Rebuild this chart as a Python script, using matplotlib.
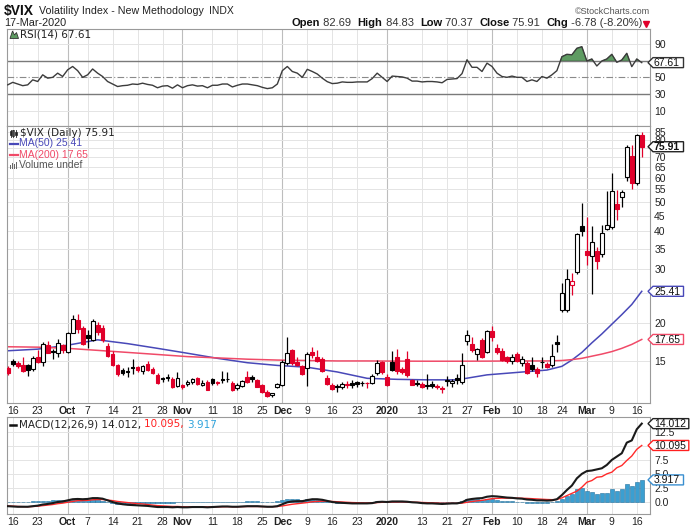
import numpy as np
import pandas as pd
import matplotlib
matplotlib.use("Agg")
import matplotlib.pyplot as plt
from matplotlib.patches import Polygon, Rectangle
from matplotlib.ticker import NullLocator

plt.rcParams['font.family'] = ['Liberation Sans', 'DejaVu Sans']

# trading days on the chart (13-Sep-2019 .. 17-Mar-2020)
holidays = ["2019-11-28", "2019-12-25", "2020-01-01", "2020-01-20", "2020-02-17"]
days = pd.bdate_range("2019-09-13", "2020-03-17")
days = days[~days.isin(pd.to_datetime(holidays))]

prev_close0 = 14.22
opens = [14.2, 14.95, 14.8, 14.6, 14.5, 14.1, 15.4, 14.9, 16.9, 16.2,
         15.9, 16.9, 16.0, 18.6, 20.4, 19.3, 18.2, 17.6, 19.7, 19.3,
         16.8, 15.8, 14.6, 14.0, 13.9, 14.3, 14.3, 13.9, 14.7, 14.1,
         13.5, 13.2, 13.25, 13.1, 12.4, 12.5, 12.6, 12.8, 13.2, 12.5,
         12.8, 13.1, 12.75, 13.05, 13.1, 12.7, 12.2, 12.4, 13.3, 13.3,
         13.0, 12.5, 11.9, 11.6, 12.3, 12.5, 14.8, 16.3, 14.9, 14.4,
         14.2, 16.0, 15.5, 15.2, 13.2, 12.5, 12.4, 12.3, 12.6, 12.7,
         12.8, 12.65, 12.7, 12.7, 13.7, 14.9, 13.3, 14.9, 15.4, 14.1,
         15.2, 13.0, 12.7, 12.6, 12.5, 12.6, 12.4, 12.2, 12.95, 12.7,
         13.2, 12.8, 17.4, 17.0, 15.75, 17.6, 16.1, 18.8, 16.6, 16.2,
         15.5, 15.0, 15.8, 14.8, 14.8, 14.5, 14.1, 14.9, 14.7, 14.5,
         17.3, 22.1, 22.1, 26.6, 29.4, 41.5, 34.6, 33.3, 34.4, 33.6,
         40.8, 41.2, 49.2, 51.9, 60.5, 70.5, 57.6, 82.69]
highs = [14.45, 15.2, 15.0, 15.4, 14.7, 15.6, 16.3, 17.3, 17.5, 16.4,
         17.7, 17.0, 18.7, 21.2, 21.4, 19.5, 18.9, 20.6, 20.2, 19.7,
         17.2, 16.2, 14.7, 14.2, 14.3, 15.2, 14.4, 14.6, 15.0, 14.3,
         13.7, 13.3, 13.6, 13.3, 13.8, 12.6, 13.0, 13.2, 13.3, 13.0,
         13.0, 13.2, 12.9, 13.9, 13.8, 12.9, 12.7, 13.0, 13.9, 13.5,
         13.1, 12.6, 12.0, 11.8, 12.7, 15.1, 17.99, 16.4, 15.4, 14.6,
         16.1, 16.7, 16.3, 15.5, 13.5, 12.7, 12.6, 12.8, 12.9, 13.0,
         12.9, 12.9, 12.8, 13.6, 15.1, 15.0, 13.6, 16.2, 16.4, 14.3,
         16.2, 13.1, 13.0, 12.8, 13.6, 12.9, 12.6, 12.4, 13.4, 13.1,
         13.6, 15.9, 19.0, 18.0, 16.5, 17.9, 19.0, 19.5, 17.0, 16.5,
         15.6, 15.8, 16.1, 15.6, 15.0, 15.4, 14.3, 15.4, 14.9, 17.1,
         18.2, 27.0, 30.1, 29.2, 39.6, 49.5, 44.7, 41.6, 35.6, 42.0,
         54.4, 62.1, 54.8, 54.9, 76.8, 77.0, 83.6, 84.83]
lows = [13.5, 14.4, 14.2, 13.8, 13.4, 13.9, 14.8, 14.4, 15.9, 15.2,
        15.5, 15.9, 15.9, 18.5, 18.5, 16.9, 16.6, 17.5, 18.3, 17.3,
        15.5, 14.4, 13.4, 13.5, 13.3, 13.6, 13.8, 13.6, 13.9, 13.6,
        12.6, 12.8, 12.9, 12.2, 12.3, 12.1, 12.4, 12.6, 12.5, 12.4,
        12.0, 12.5, 12.5, 12.7, 12.8, 11.95, 12.0, 12.3, 12.7, 12.8,
        12.3, 11.8, 11.45, 11.4, 12.2, 12.4, 14.5, 14.6, 14.4, 13.5,
        12.4, 15.3, 14.9, 13.8, 12.5, 12.0, 11.9, 12.1, 12.2, 12.2,
        12.3, 12.4, 12.2, 12.6, 13.5, 13.6, 12.4, 13.9, 13.6, 13.6,
        13.3, 12.5, 12.4, 12.2, 12.1, 12.2, 12.1, 11.8, 12.4, 12.3,
        12.6, 12.6, 16.9, 16.0, 15.1, 15.3, 15.9, 17.5, 15.8, 15.0,
        14.8, 14.7, 14.9, 14.4, 13.6, 13.9, 13.3, 14.2, 14.2, 14.3,
        16.1, 21.7, 21.8, 24.8, 28.9, 38.5, 31.1, 24.9, 30.0, 33.0,
        40.3, 40.8, 43.5, 48.0, 58.5, 55.0, 57.0, 70.37]
closes = [13.74, 14.67, 14.44, 13.95, 14.05, 15.32, 14.91, 17.05, 15.96, 16.07,
          17.22, 16.24, 18.56, 20.56, 19.12, 17.04, 17.86, 20.28, 18.64, 17.57,
          15.58, 14.57, 13.54, 13.68, 13.79, 14.25, 14.00, 14.46, 14.01, 13.71,
          12.65, 13.11, 13.20, 12.33, 13.22, 12.30, 12.83, 13.10, 12.62, 12.73,
          12.07, 12.69, 12.68, 13.00, 13.05, 12.05, 12.46, 12.86, 12.78, 13.13,
          12.34, 11.87, 11.54, 11.75, 12.62, 14.91, 15.96, 14.80, 14.52, 13.62,
          15.86, 15.68, 14.99, 13.94, 12.63, 12.14, 12.29, 12.58, 12.50, 12.51,
          12.61, 12.67, 12.65, 13.43, 14.82, 13.78, 12.47, 14.02, 13.85, 13.79,
          13.45, 12.54, 12.56, 12.32, 12.39, 12.42, 12.32, 12.10, 12.85, 12.91,
          12.98, 14.56, 18.23, 16.28, 16.39, 15.49, 18.84, 17.97, 16.05, 15.15,
          14.96, 15.47, 15.04, 15.18, 13.74, 14.15, 13.68, 14.83, 14.38, 15.56,
          17.08, 25.03, 27.85, 27.56, 39.16, 40.11, 33.42, 36.82, 31.99, 39.62,
          41.94, 54.46, 47.30, 53.90, 75.47, 57.83, 82.69, 75.91]

ma_dates = ["2019-09-13", "2019-09-23", "2019-10-01", "2019-10-09", "2019-10-17",
            "2019-10-25", "2019-11-04", "2019-11-12", "2019-11-20", "2019-11-29",
            "2019-12-09", "2019-12-17", "2019-12-26", "2020-01-06", "2020-01-14",
            "2020-01-23", "2020-01-31", "2020-02-10", "2020-02-19", "2020-02-24",
            "2020-02-26", "2020-02-28", "2020-03-03", "2020-03-05", "2020-03-09",
            "2020-03-11", "2020-03-13", "2020-03-17"]
ma50 = [16.2, 16.4, 16.9, 17.6, 17.1, 16.5, 15.9, 15.3, 14.8, 14.5,
        14.3, 13.8, 13.15, 13.05, 13.0, 13.0, 13.5, 13.75, 14.0, 14.4,
        15.1, 16.0, 17.2, 18.4, 19.8, 21.3, 23.0, 25.41]
ma200 = [16.7, 16.65, 16.5, 16.25, 16.0, 15.75, 15.5, 15.35, 15.2, 15.1,
         15.05, 15.0, 15.0, 14.98, 14.97, 14.97, 14.98, 15.0, 15.0, 15.05,
         15.15, 15.3, 15.55, 15.8, 16.1, 16.5, 17.0, 17.65]

rsi = [41, 44, 42, 40, 41, 47, 45, 53, 49, 50,
       55, 51, 59, 63, 58, 50, 53, 60, 55, 51,
       45, 42, 39, 40, 40.5, 42, 41.5, 43, 41.5, 40.5,
       37.5, 39.5, 40, 37, 41, 37.5, 40, 41, 39.5, 40,
       37.5, 40.5, 40.5, 42, 42, 38.5, 40.5, 42, 42, 41,
       40, 38, 36.5, 37.5, 42, 58, 63, 57, 55, 50,
       59.6, 57, 54, 49, 44.8, 42.5, 43, 44.5, 44, 44,
       44.5, 44.5, 44.5, 48.5, 55, 50, 45, 51.5, 51, 50.5,
       49, 45.5, 45.5, 44.5, 45, 45, 44.5, 43.5, 47.5, 48,
       48.5, 54.5, 71, 62, 62, 57, 67, 63, 55, 51,
       50, 51.5, 50, 50, 45, 47, 45, 51, 49, 53,
       58, 74.7, 77.6, 77, 84.8, 86.7, 69.6, 72, 63.6, 69.6,
       72, 77.6, 68, 70.8, 78.8, 62.8, 72, 67.61]

macd = [-0.8, -0.85, -0.9, -0.9, -0.9, -0.8, -0.7, -0.5, -0.4, -0.25,
        -0.05, 0.05, 0.25, 0.45, 0.5, 0.45, 0.5, 0.65, 0.65, 0.55,
        0.25, -0.05, -0.3, -0.45, -0.55, -0.6, -0.65, -0.7, -0.75, -0.85,
        -0.95, -0.95, -0.95, -1.0, -0.95, -1.0, -1.0, -0.95, -0.95, -0.95,
        -1.0, -0.95, -0.9, -0.85, -0.85, -0.9, -0.9, -0.85, -0.8, -0.8,
        -0.8, -0.85, -0.9, -0.9, -0.8, -0.45, -0.1, 0.05, 0.1, 0.1,
        0.3, 0.45, 0.45, 0.35, 0.15, -0.05, -0.15, -0.2, -0.25, -0.3,
        -0.3, -0.3, -0.3, -0.25, -0.05, 0.0, -0.05, 0.05, 0.05, 0.05,
        0.0, -0.1, -0.15, -0.25, -0.3, -0.3, -0.35, -0.4, -0.35, -0.3,
        -0.3, -0.1, 0.35, 0.5, 0.6, 0.65, 0.9, 1.0, 0.95, 0.85,
        0.75, 0.7, 0.6, 0.55, 0.4, 0.35, 0.25, 0.25, 0.2, 0.25,
        0.45, 1.2, 2.1, 2.9, 4.2, 5.0, 5.5, 5.6, 5.8, 6.0,
        6.6, 7.5, 8.1, 8.7, 10.6, 11.0, 13.0, 14.012]
hist = [-0.05, -0.05, -0.05, -0.03, 0.0, 0.05, 0.1, 0.2, 0.2, 0.25,
        0.3, 0.3, 0.35, 0.4, 0.3, 0.25, 0.25, 0.3, 0.25, 0.15,
        -0.05, -0.25, -0.35, -0.4, -0.4, -0.35, -0.3, -0.3, -0.25, -0.25,
        -0.25, -0.2, -0.15, -0.15, -0.1, -0.1, -0.08, -0.05, -0.04, -0.03,
        -0.05, -0.02, 0.0, 0.03, 0.03, 0.0, 0.0, 0.02, 0.05, 0.05,
        0.05, 0.02, -0.02, -0.02, 0.05, 0.3, 0.5, 0.5, 0.45, 0.35,
        0.45, 0.45, 0.4, 0.25, 0.05, -0.1, -0.15, -0.15, -0.15, -0.15,
        -0.12, -0.1, -0.08, -0.05, 0.1, 0.1, 0.05, 0.1, 0.1, 0.08,
        0.05, -0.03, -0.05, -0.12, -0.15, -0.12, -0.12, -0.12, -0.08, -0.03,
        -0.02, 0.15, 0.45, 0.45, 0.45, 0.4, 0.5, 0.45, 0.35, 0.2,
        0.1, 0.05, -0.05, -0.08, -0.2, -0.2, -0.25, -0.2, -0.2, -0.12,
        0.05, 0.5, 1.0, 1.4, 2.3, 2.4, 2.0, 1.8, 1.4, 1.5,
        1.6, 2.2, 2.0, 2.2, 3.2, 2.8, 3.6, 3.917]

tick_dates = ["2019-09-16", "2019-09-23", "2019-10-01", "2019-10-07", "2019-10-14",
              "2019-10-21", "2019-10-28", "2019-11-01", "2019-11-11", "2019-11-18",
              "2019-11-25", "2019-12-02", "2019-12-09", "2019-12-16", "2019-12-23",
              "2020-01-02", "2020-01-13", "2020-01-21", "2020-01-27", "2020-02-03",
              "2020-02-10", "2020-02-18", "2020-02-24", "2020-03-02", "2020-03-09",
              "2020-03-16"]
tick_labels = ["16", "23", "Oct", "7", "14", "21", "28", "Nov", "11", "18", "25",
               "Dec", "9", "16", "23", "2020", "13", "21", "27", "Feb", "10", "18",
               "24", "Mar", "9", "16"]
month_labels = ["Oct", "Nov", "Dec", "2020", "Feb", "Mar"]

RED = '#e0002a'
BLUE = '#4848b8'
PINK = '#f04a68'
GRID = '#e4e4e4'
MGRID = '#bdbdbd'

x = np.arange(len(days))


def pos(d):
    return days.get_loc(pd.Timestamp(d))


W, H = 697, 531
fig = plt.figure(figsize=(W / 100, H / 100), dpi=100)


def panel(top, bottom):
    return fig.add_axes([7 / W, 1 - bottom / H, 643 / W, (bottom - top) / H])


ax_rsi = panel(29, 126)
ax = panel(126, 403)
ax_m = panel(417, 514)

tick_x = [pos(d) for d in tick_dates]
for a in (ax_rsi, ax, ax_m):
    a.set_xlim(-0.15, 128.65)
    for s in a.spines.values():
        s.set_color('#9a9a9a')
        s.set_linewidth(0.8)
    a.yaxis.tick_right()
    a.tick_params(axis='y', length=0, pad=3, labelsize=7.5, labelcolor='#222')
    a.tick_params(axis='x', length=0, pad=2.5, labelsize=7.5, labelcolor='#222')
    for tx, lab in zip(tick_x, tick_labels):
        mon = lab in month_labels
        a.axvline(tx, color=MGRID if mon else GRID, lw=0.8 if mon else 0.7, zorder=0)
    a.set_xticks(tick_x)
    if a is ax_rsi:
        a.set_xticklabels([])
    else:
        a.set_xticklabels(tick_labels)
        for t in a.get_xticklabels():
            if t.get_text() in month_labels:
                t.set_fontweight('bold')

# RSI panel
r = np.array(rsi)
ax_rsi.set_ylim(-8.3, 107.9)
for v in (10, 90):
    ax_rsi.axhline(v, color=GRID, lw=0.7, zorder=0)
ax_rsi.axhline(70, color='#7a7a7a', lw=1.0, zorder=1)
ax_rsi.axhline(30, color='#7a7a7a', lw=1.0, zorder=1)
ax_rsi.axhline(50, color='#8a8a8a', lw=0.8, ls=(0, (6, 2, 1, 2)), zorder=1)
ax_rsi.fill_between(x, r, 70, where=r >= 70, interpolate=True,
                    facecolor='#5e9b62', edgecolor='#3d6e40', lw=0.5, zorder=2)
ax_rsi.plot(x, r, color='#3c3c3c', lw=1.0, zorder=3)
ax_rsi.set_yticks([10, 30, 50, 90])

# price panel
ax.set_yscale('log')
ax.set_ylim(10.91, 88.8)
ax.yaxis.set_minor_locator(NullLocator())
levels = list(range(15, 90, 5))
for v in levels:
    ax.axhline(v, color=GRID, lw=0.7, zorder=0)
ax.set_yticks(levels)
ax.set_yticklabels(['' if v in (25, 75) else str(v) for v in levels])

ma_x = [pos(d) for d in ma_dates]
ax.plot(ma_x, ma50, color=BLUE, lw=1.1, zorder=2)
ax.plot(ma_x, ma200, color=PINK, lw=1.1, zorder=2)

o, hi, lo, c = map(np.array, (opens, highs, lows, closes))
prev = np.r_[prev_close0, c[:-1]]
edge = np.where(c < prev, RED, 'black')
face = np.where(c > o, 'white', edge)
ax.vlines(x, lo, hi, colors=list(edge), lw=0.9, zorder=3)
ax.bar(x, np.abs(c - o), bottom=np.minimum(o, c), width=0.76,
       color=list(face), edgecolor=list(edge), linewidth=0.8, zorder=4)

# MACD panel
m = np.array(macd)
hst = np.array(hist)
sig = m - hst
ax_m.set_ylim(-2.2, 15.2)
mlev = [0, 2.5, 5, 7.5, 10, 12.5]
for v in mlev:
    ax_m.axhline(v, color=GRID, lw=0.7, zorder=0)
ax_m.bar(x, hst, width=0.85, color='#3b9fd1', edgecolor='#22709c', lw=0.4, zorder=2)
ax_m.plot(x, sig, color='#ff2a2a', lw=1.0, zorder=3)
ax_m.plot(x, m, color='#1a1a1a', lw=1.5, zorder=4)
ax_m.set_yticks(mlev)
ax_m.set_yticklabels(['0.0', '2.5', '5.0', '7.5', '', '12.5'])

# overlay in pixel coordinates for header, legends and value tags
ov = fig.add_axes([0, 0, 1, 1], zorder=10)
ov.set_xlim(0, W)
ov.set_ylim(H, 0)
ov.axis('off')
ov.patch.set_alpha(0)
rend = fig.canvas.get_renderer()


def seq_text(x0, y, parts, size, family=None):
    for s, weight, color in parts:
        t = ov.text(x0, y, s, fontsize=size, fontweight=weight, color=color,
                    va='center', ha='left', family=family)
        x0 += t.get_window_extent(renderer=rend).width
    return x0


def tag(a, v, s, ec, weight='normal'):
    yp = H - a.transData.transform((0, v))[1]
    w = 5.3 * len(s) + 4
    x0 = 648
    ov.add_patch(Polygon([(x0, yp), (x0 + 5, yp - 5), (x0 + 5 + w, yp - 5),
                          (x0 + 5 + w, yp + 5), (x0 + 5, yp + 5)],
                         closed=True, fc='white', ec=ec, lw=1.0, zorder=5))
    ov.text(x0 + 6, yp + 0.5, s, fontsize=7.5, fontweight=weight, va='center',
            ha='left', color='#111', zorder=6)


# header
ov.text(4, 10.5, "$VIX", fontsize=10, fontweight='bold', va='center', color='#111')
ov.text(39, 11, "Volatility Index - New Methodology", fontsize=7.7, va='center', color='#222')
ov.text(209, 11, "INDX", fontsize=7.5, va='center', color='#222')
ov.text(650, 11, "\u00a9StockCharts.com", fontsize=6.5, va='center', ha='right', color='#555')
ov.text(4, 23.5, days[-1].strftime('%d-%b-%Y'), fontsize=7.8, va='center', color='#222')
chg = closes[-1] - closes[-2]
pct = chg / closes[-2] * 100
end = seq_text(292, 23.5, [("Open", 'bold', '#111'), (f" {opens[-1]:.2f}  ", 'normal', '#333'),
                           ("High", 'bold', '#111'), (f" {highs[-1]:.2f}  ", 'normal', '#333'),
                           ("Low", 'bold', '#111'), (f" {lows[-1]:.2f}  ", 'normal', '#333'),
                           ("Close", 'bold', '#111'), (f" {closes[-1]:.2f}  ", 'normal', '#333'),
                           ("Chg", 'bold', '#111'), (f" {chg:.2f} ({pct:.2f}%)", 'normal', '#333')], 8)
ov.plot(end + 4, 24, marker='v', ms=4, color=RED)

# RSI legend
ov.add_patch(Polygon([(10, 38.5), (12.5, 31), (14.5, 35), (16.5, 32.5), (18.5, 38.5)],
                     closed=True, fc='#5e9b62', ec='#333', lw=0.6))
ov.text(20, 34.5, f"RSI(14) {rsi[-1]:.2f}", fontsize=7.5, va='center', color='#222',
        family='DejaVu Sans')

# price legend
for i, (bl, bh, fc) in enumerate([(131, 135, '#222'), (130, 136, 'white'), (131.5, 134.5, '#222')]):
    ov.plot([10.5 + 2.8 * i, 10.5 + 2.8 * i], [129.5, 137], color='#222', lw=0.6)
    ov.add_patch(Rectangle((9.5 + 2.8 * i, bl), 2, bh - bl, fc=fc, ec='#222', lw=0.5))
ov.text(20, 133, f"$VIX (Daily) {closes[-1]:.2f}", fontsize=7.5, va='center', color='#222',
        family='DejaVu Sans')
ov.plot([10, 18], [143.5, 143.5], color=BLUE, lw=1.6)
ov.text(19, 143.5, f"MA(50) {ma50[-1]:.2f}", fontsize=7.5, va='center', color=BLUE)
ov.plot([10, 18], [154.5, 154.5], color=PINK, lw=1.6)
ov.text(19, 154.5, f"MA(200) {ma200[-1]:.2f}", fontsize=7.5, va='center', color=PINK)
for i, bh in enumerate([4, 6, 5, 7]):
    ov.add_patch(Rectangle((10 + 2 * i, 169 - bh), 1.4, bh, fc='#666', ec='none'))
ov.text(19, 165.5, "Volume undef", fontsize=7.5, va='center', color='#555')

# MACD legend
ov.plot([10, 16], [424.5, 424.5], color='#111', lw=1.8)
seq_text(19, 424.5, [(f"MACD(12,26,9) {macd[-1]:.3f}, ", 'normal', '#222'),
                     (f"{sig[-1]:.3f}, ", 'normal', '#ff2020'),
                     (f"{hist[-1]:.3f}", 'normal', '#2fa3dc')], 7.5, family='DejaVu Sans')

# value tags on the right axis
tag(ax_rsi, rsi[-1], f"{rsi[-1]:.2f}", '#333')
tag(ax, closes[-1], f"{closes[-1]:.2f}", '#222', 'bold')
tag(ax, ma50[-1], f"{ma50[-1]:.2f}", BLUE)
tag(ax, ma200[-1], f"{ma200[-1]:.2f}", PINK)
tag(ax_m, macd[-1], f"{macd[-1]:.3f}", '#222')
tag(ax_m, sig[-1], f"{sig[-1]:.3f}", '#ff2020')
tag(ax_m, hist[-1], f"{hist[-1]:.3f}", '#3a8fd0')

fig.savefig("out.png", dpi=100)
